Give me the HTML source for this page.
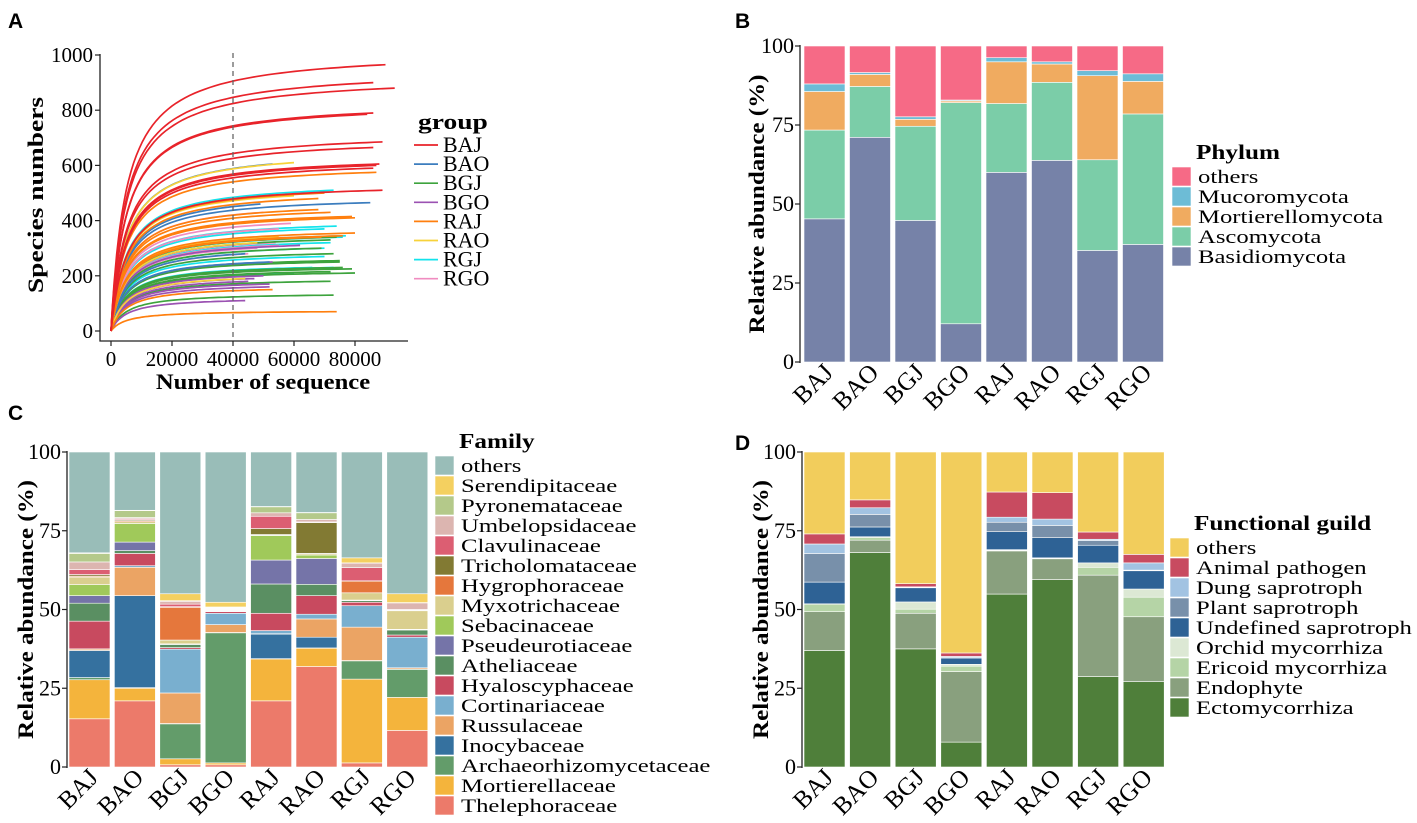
<!DOCTYPE html>
<html><head><meta charset="utf-8"><style>
body{margin:0;background:#fff}
svg{display:block;font-family:"Liberation Serif",serif}
</style></head><body>
<svg id="fig" width="1417" height="823" viewBox="0 0 1417 823" xmlns="http://www.w3.org/2000/svg"></svg>
<script>
// ---------- Panel A data (rarefaction curves: final species count, depth in thousands) ----------
const groupNames=["BAJ","BAO","BGJ","BGO","RAJ","RAO","RGJ","RGO"];
const groupColors=["#E8232A","#3C7DBE","#3DA33D","#9B52B2","#FF7F0E","#F7D23A","#13E3EC","#F08CC0"];
const curvesBAJ=[[965,90],[900,86],[880,93],[790,86],[785,84],[685,89],[665,86],[605,88],[600,87],[590,86],[510,89]];
const curvesBAO=[[605,53],[465,85],[460,49],[280,44],[250,52]];
const curvesBGJ=[[280,73],[255,75],[250,75],[230,76],[225,79],[215,72],[210,80],[180,72],[130,73],[330,72],[340,74],[300,69]];
const curvesBGO=[[250,53],[200,50],[190,47],[180,45],[170,52],[160,52],[110,44],[310,62]];
const curvesRAJ=[[575,87],[500,70],[480,68],[440,68],[430,72],[410,80],[415,79],[355,80],[345,76],[340,69],[150,53],[70,74]];
const curvesRAO=[[610,60],[490,60],[340,55],[335,50],[320,48],[190,44]];
const curvesRGJ=[[510,73],[380,74],[370,70],[345,77],[340,76],[320,72],[300,70],[230,73],[230,66],[210,60],[270,70]];
const curvesRGO=[[430,50],[390,59],[370,55],[320,54],[310,55],[300,48],[280,45],[240,43],[220,56]];
const yTicksA=[0,200,400,600,800,1000];
const xTicksA=[0,20000,40000,60000,80000];
const cutoffA=40000;

// ---------- Panel B data ----------
const phylumNames=["Basidiomycota","Ascomycota","Mortierellomycota","Mucoromycota","others"];
const phylumColors=["#7682A8","#7BCDA8","#F0AB60","#6DBCD6","#F66A86"];
const phyBAJ=[45.3,28.1,12.2,2.4];
const phyBAO=[71.1,16.1,3.8,0.6];
const phyBGJ=[44.8,29.8,2.2,0.8];
const phyBGO=[12.1,70.0,0.5,0.3];
const phyRAJ=[60.0,21.8,13.2,1.3];
const phyRAO=[63.8,24.7,5.8,0.7];
const phyRGJ=[35.3,28.7,26.6,1.6];
const phyRGO=[37.2,41.3,10.3,2.4];

// ---------- Panel C data ----------
const familyNames=["Thelephoraceae","Mortierellaceae","Archaeorhizomycetaceae","Inocybaceae","Russulaceae","Cortinariaceae","Hyaloscyphaceae","Atheliaceae","Pseudeurotiaceae","Sebacinaceae","Myxotrichaceae","Hygrophoraceae","Tricholomataceae","Clavulinaceae","Umbelopsidaceae","Pyronemataceae","Serendipitaceae","others"];
const familyColors=["#EC7A6A","#F4B43C","#639C6A","#35719F","#EBA464","#79AFCF","#C84A5F","#5A8F62","#7574A8","#A0C95A","#DACF8E","#E5773C","#827A33","#DC5E72","#DCB5B0","#B4C98A","#F4D060","#99BDB8"];
const famBAJ=[15.3,12.4,0.7,8.6,0.4,0.1,8.8,5.7,2.4,3.5,2.4,0.3,0.5,1.6,2.4,2.7,0.2];
const famBAO=[21,4,0.2,29.2,9,0.5,3.9,0.9,2.7,5.9,0.6,0.3,0.3,0.3,0.4,2.2,0.1];
const famBGJ=[0.7,1.9,11.1,0.1,9.7,13.9,0.5,1.0,0.1,0.1,1.2,10.4,0.2,0.8,0.9,0.2,2.2];
const famBGO=[0.7,0.6,41.3,0.1,2.5,3.6,0.5,0.2,0.2,0.1,0.2,0.2,0.1,0.1,0.2,0.2,1.5];
const famRAJ=[21,13.3,0.1,7.8,0.1,1.0,5.5,9.3,7.6,7.8,0.2,0.1,1.9,3.9,1.1,1.9,0.1];
const famRAO=[31.9,5.8,0.1,3.4,5.8,1.5,5.9,3.6,8.2,1.1,0.4,0.1,9.8,0.2,0.8,2.1,0.1];
const famRGJ=[1.3,26.6,5.8,0.1,10.6,6.8,1.1,0.5,0.1,0.1,2.3,3.7,0.1,4.2,1.4,0.1,1.6];
const famRGO=[11.6,10.5,8.9,0.1,0.4,9.7,0.7,1.6,0.1,0.1,5.9,0.1,0.2,0.1,2.1,0.1,2.8];

// ---------- Panel D data ----------
const guildNames=["Ectomycorrhiza","Endophyte","Ericoid mycorrhiza","Orchid mycorrhiza","Undefined saprotroph","Plant saprotroph","Dung saprotroph","Animal pathogen","others"];
const guildColors=["#4F7F3A","#89A07E","#B5D4A6","#DCE8D4","#2E6295","#7890AA","#A2C3E2","#C84B60","#F2CD5C"];
const gBAJ=[37,12.3,2.4,0.1,6.9,9.1,3.0,3.2];
const gBAO=[68.1,3.9,0.9,0.2,3.1,4.0,2.1,2.5];
const gBGJ=[37.5,11.3,1.3,2.3,4.5,0.2,0.1,1.0];
const gBGO=[7.9,22.4,1.7,0.6,2.0,0.1,0.4,1.1];
const gRAJ=[54.9,13.7,0.2,0.2,5.7,3.0,1.6,8.0];
const gRAO=[59.5,6.6,0.2,0.1,6.4,3.9,2.0,8.4];
const gRGJ=[28.7,32.2,2.5,1.4,5.6,1.5,0.4,2.3];
const gRGO=[27.1,20.6,6.2,2.6,5.8,0.2,2.3,2.7];
const pctTicks=[0,25,50,75,100];

const NS="http://www.w3.org/2000/svg";
const svg=document.getElementById('fig');
function mk(tag,attrs,parent,text){const e=document.createElementNS(NS,tag);for(const k in attrs)e.setAttribute(k,attrs[k]);if(text!==undefined)e.textContent=text;(parent||svg).appendChild(e);return e;}
// horizontally stretched text (reference typeface is wider)
function stext(x,y,sx,rot,attrs,parent,text){
  const a=Object.assign({x:0,y:0,transform:`translate(${x},${y})${rot?` rotate(${rot})`:''} scale(${sx},1)`},attrs);
  return mk('text',a,parent,text);
}

// panel letters
[["A",8,28],["B",735,28],["C",8,420],["D",735,450]].forEach(([t,x,y])=>{
  const e=mk('text',{x:x,y:y,'font-family':'Liberation Sans, sans-serif','font-weight':'bold','font-size':21},svg,t);
  
  
});

// ---------- Panel A ----------
(function(){
  const g=mk('g',{});
  
  
  const x0=111,xPer=61/20000,y0=331,yPer=276/1000;
  const X=v=>x0+v*xPer, Y=v=>y0-v*yPer;
  const K=5000;
  const all=[curvesBAJ,curvesBAO,curvesBGJ,curvesBGO,curvesRAJ,curvesRAO,curvesRGJ,curvesRGO];
  const order=[6,7,2,3,1,5,4,0];
  order.forEach(gi=>{
    all[gi].forEach((c,ci)=>{
      const end=c[0],depth=c[1]*1000;
      const A=end*(K+depth)/depth;
      let d="";
      for(let s=0;s<=60;s++){const x=depth*Math.pow(s/60,1.8);const v=A*x/(K+x);d+=(s?"L":"M")+X(x).toFixed(1)+","+Y(v).toFixed(1);}
      const p=mk('path',{d:d,fill:'none',stroke:groupColors[gi],'stroke-width':1.7},g);
      
      
    });
  });
  const dl=mk('line',{x1:X(cutoffA),x2:X(cutoffA),y1:53,y2:341,stroke:'#666','stroke-width':1.3,'stroke-dasharray':'5,4'},g);
  
  
  const ax=mk('path',{d:'M100,54 L100,341 L408,341',fill:'none',stroke:'#222','stroke-width':1.3},g);
  
  
  yTicksA.forEach(v=>{
    mk('line',{x1:95,x2:100,y1:Y(v),y2:Y(v),stroke:'#222','stroke-width':1.2},g);
    const t=mk('text',{x:93,y:Y(v)+7,'text-anchor':'end','font-size':21},g,v);
    
    
  });
  xTicksA.forEach(v=>{
    mk('line',{x1:X(v),x2:X(v),y1:341,y2:346,stroke:'#222','stroke-width':1.2},g);
    const t=mk('text',{x:X(v),y:366,'text-anchor':'middle','font-size':21},g,v);
    
    
  });
  const xt=stext(263,389,1.12,0,{'text-anchor':'middle','font-size':22,'font-weight':'bold'},g,'Number of sequence');
  
  
  const yt=stext(43,195,1.25,-90,{'text-anchor':'middle','font-size':22,'font-weight':'bold'},g,'Species numbers');
  
  
  const lt=stext(418,129,1.25,0,{'font-size':22,'font-weight':'bold'},g,'group');
  
  
  groupNames.forEach((n,i)=>{
    const y=145+i*19.1;
    const le=mk('g',{},g);
    
    
    mk('line',{x1:414,x2:438,y1:y,y2:y,stroke:groupColors[i],'stroke-width':1.7},le);
    mk('text',{x:443,y:y+7,'font-size':22},le,n);
  });
})();

// ---------- Stacked bar helper ----------
function stacked(opts){
  const g=mk('g',{});
  
  
  const {axX,yTop,yBot,bx0,bw,step,samples,names,colors}=opts;
  const Y=v=>yBot-(yBot-yTop)*v/100;
  samples.forEach((vals,si)=>{
    const x=bx0+si*step;
    let cum=0;
    const full=vals.concat([Math.max(0,100-vals.reduce((a,b)=>a+b,0))]);
    full.forEach((v,ci)=>{
      const r=mk('rect',{x:x,y:Y(cum+v),width:bw,height:Math.max(0,Y(cum)-Y(cum+v)),fill:colors[ci],stroke:'#fff','stroke-width':0.6},g);
      
      
      cum+=v;
    });
    const t=mk('text',{x:0,y:0,transform:`translate(${x+bw/2+10},${yBot+12}) rotate(-45)`,'text-anchor':'end','font-size':25},g,groupNames[si]);
    
    
  });
  const ax=mk('line',{x1:axX,x2:axX,y1:yTop-1,y2:yBot+1,stroke:'#222','stroke-width':1.3},g);
  
  
  pctTicks.forEach(v=>{
    mk('line',{x1:axX-5,x2:axX,y1:Y(v),y2:Y(v),stroke:'#222','stroke-width':1.2},g);
    const t=mk('text',{x:axX-6,y:Y(v)+7,'text-anchor':'end','font-size':22},g,v);
    
    
  });
  const yt=stext(opts.titleX,(yTop+yBot)/2,1.14,-90,{'text-anchor':'middle','font-size':22,'font-weight':'bold'},g,'Relative abundance (%)');
  
  
  const lt=stext(opts.legX+24,opts.legY-8,1.2,0,{'font-size':21,'font-weight':'bold'},g,opts.legTitle);
  
  
  for(let i=names.length-1,k=0;i>=0;i--,k++){
    const y=opts.legY+k*opts.legStep;
    const le=mk('g',{},g);
    
    
    mk('rect',{x:opts.legX,y:y,width:19,height:opts.legStep-1,fill:colors[i],stroke:'#fff','stroke-width':0.6},le);
    stext(opts.legX+26,y+opts.legStep-4,1.3,0,{'font-size':opts.legFont},le,names[i]);
  }
}

stacked({name:'phylum-chart',axX:800,yTop:46,yBot:362,bx0:804,bw:41,step:45.5,
  samples:[phyBAJ,phyBAO,phyBGJ,phyBGO,phyRAJ,phyRAO,phyRGJ,phyRGO],
  names:phylumNames,colors:phylumColors,titleX:764,legX:1172,legY:167,legStep:20,legFont:19,legTitle:'Phylum'});

stacked({name:'family-chart',axX:67,yTop:452,yBot:767,bx0:69,bw:41,step:45.4,
  samples:[famBAJ,famBAO,famBGJ,famBGO,famRAJ,famRAO,famRGJ,famRGO],
  names:familyNames,colors:familyColors,titleX:33,legX:435,legY:456,legStep:20,legFont:19,legTitle:'Family'});

stacked({name:'guild-chart',axX:802,yTop:452,yBot:767,bx0:804,bw:41,step:45.6,
  samples:[gBAJ,gBAO,gBGJ,gBGO,gRAJ,gRAO,gRGJ,gRGO],
  names:guildNames,colors:guildColors,titleX:768,legX:1170,legY:538,legStep:20,legFont:19,legTitle:'Functional guild'});
</script>
</body></html>
